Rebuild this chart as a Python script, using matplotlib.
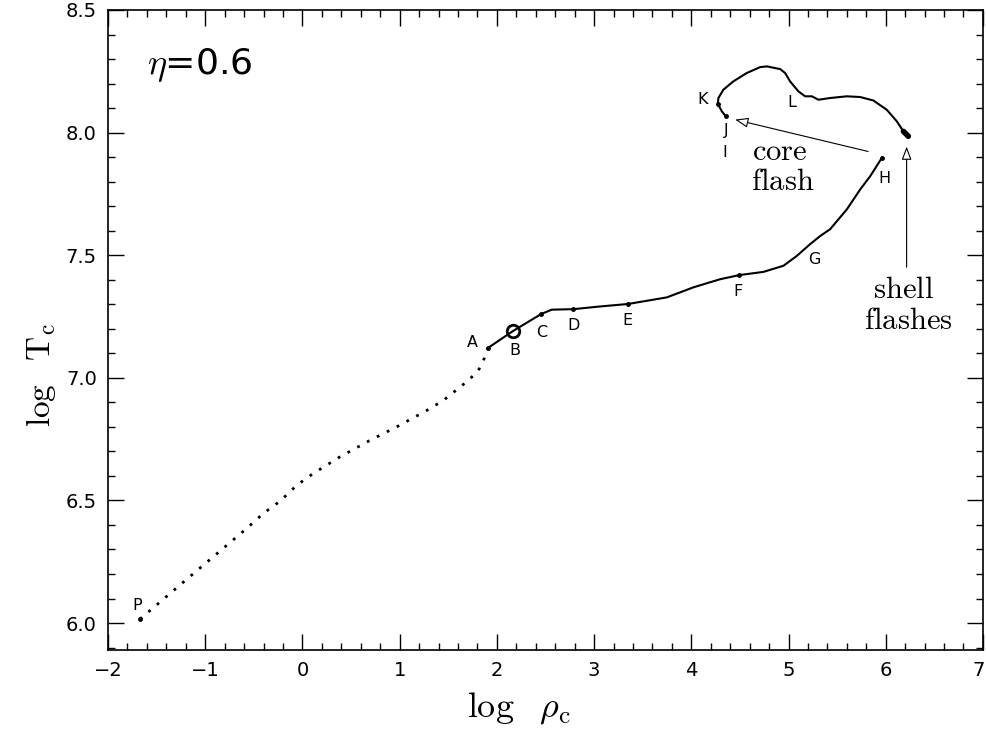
import numpy as np
import matplotlib
matplotlib.use("Agg")
import matplotlib.pyplot as plt
from matplotlib.ticker import MultipleLocator, FormatStrFormatter, FuncFormatter

plt.rcParams["mathtext.fontset"] = "cm"
plt.rcParams["font.family"] = ["DejaVu Sans"]

#----Data (log rho_c, log T_c)----

# pre-main-sequence part, dotted (P -> A)
pre_x = [-1.671, -1.499, -1.156, -0.814, -0.573, -0.402, -0.230, -0.058, 0.112, 0.387,
         0.695, 0.970, 1.279, 1.450, 1.621, 1.724, 1.810, 1.861, 1.896, 1.906]
pre_y = [6.016, 6.074, 6.190, 6.305, 6.386, 6.447, 6.497, 6.562, 6.610, 6.678,
         6.745, 6.800, 6.867, 6.908, 6.962, 6.996, 7.030, 7.070, 7.104, 7.121]

# main track, solid (A -> H)
track_x = [1.906, 2.167, 2.455, 2.565, 2.787, 3.062, 3.347, 3.748, 4.022, 4.296, 4.495,
           4.742, 4.948, 5.085, 5.222, 5.325, 5.428, 5.600, 5.737, 5.840, 5.960]
track_y = [7.121, 7.191, 7.260, 7.278, 7.280, 7.291, 7.301, 7.328, 7.369, 7.402, 7.419,
           7.432, 7.457, 7.497, 7.545, 7.578, 7.606, 7.687, 7.768, 7.822, 7.897]

# helium burning loop (J -> K -> L -> shell flashes)
loop_x = [4.355, 4.314, 4.273, 4.279, 4.330, 4.433, 4.571, 4.708, 4.777, 4.914, 4.965, 5.016,
          5.102, 5.171, 5.240, 5.308, 5.428, 5.600, 5.737, 5.873, 6.011, 6.114, 6.182, 6.233]
loop_y = [8.066, 8.087, 8.117, 8.141, 8.175, 8.209, 8.243, 8.267, 8.270, 8.259, 8.243, 8.209,
          8.168, 8.148, 8.148, 8.134, 8.141, 8.148, 8.145, 8.131, 8.093, 8.046, 8.005, 7.985]

# marked points
mark_names = ["P", "A", "C", "D", "E", "F", "H", "J", "K"]
mark_x = [-1.671, 1.906, 2.455, 2.787, 3.347, 4.495, 5.960, 4.355, 4.273]
mark_y = [6.016, 7.121, 7.260, 7.280, 7.301, 7.419, 7.897, 8.066, 8.117]

# ZAMS point B (open circle)
b_x, b_y = 2.167, 7.191

eta = 0.6
x_max = 7

#----Figure----

fig = plt.figure(figsize = (9.86, 7.34), dpi = 100)
ax = fig.add_axes([0.1095, 0.1144, 0.8874, 0.872])

ax.plot(pre_x, pre_y, color = "black", lw = 2, linestyle = (0, (1, 3)))
ax.plot(track_x, track_y, color = "black", lw = 1.5)
ax.plot(loop_x, loop_y, color = "black", lw = 1.5)
ax.plot(loop_x[-2:], loop_y[-2:], color = "black", lw = 4, solid_capstyle = "round")
ax.plot(mark_x, mark_y, "o", color = "black", ms = 2.5)
ax.plot([b_x], [b_y], "o", mfc = "none", mec = "black", ms = 9, mew = 2)

#----Point labels----
offsets = {"P": (-2, 10), "A": (-11, 4), "C": (0.5, -13), "D": (0, -12), "E": (0, -12),
           "F": (-1, -11.5), "H": (2, -15), "J": (0, -10), "K": (-11, 3)}
for name, x, y in zip(mark_names, mark_x, mark_y):
    ax.annotate(name, (x, y), xytext = offsets[name], textcoords = "offset points",
                ha = "center", va = "center", fontsize = 11.5)
ax.annotate("B", (b_x, b_y), xytext = (1, -14), textcoords = "offset points",
            ha = "center", va = "center", fontsize = 11.5)
ax.text(5.27, 7.484, "G", ha = "center", va = "center", fontsize = 11.5)
ax.text(5.031, 8.122, "L", ha = "center", va = "center", fontsize = 11.5)
ax.text(4.348, 7.919, "I", ha = "center", va = "center", fontsize = 11.5)

#----Arrows and notes----
ax.annotate("", xy = (4.451, 8.053), xytext = (5.819, 7.923),
            arrowprops = dict(arrowstyle = "-|>,head_length=0.8,head_width=0.3", fc = "white",
                              ec = "black", lw = 0.8, shrinkA = 0, shrinkB = 0))
ax.annotate("", xy = (6.215, 7.943), xytext = (6.215, 7.451),
            arrowprops = dict(arrowstyle = "-|>,head_length=0.8,head_width=0.3", fc = "white",
                              ec = "black", lw = 0.8, shrinkA = 0, shrinkB = 0))
ax.text(4.914, 7.923, r"$\mathrm{core}$", ha = "center", va = "center", fontsize = 22)
ax.text(4.944, 7.801, r"$\mathrm{flash}$", ha = "center", va = "center", fontsize = 22)
ax.text(6.179, 7.362, r"$\mathrm{shell}$", ha = "center", va = "center", fontsize = 22)
ax.text(6.230, 7.232, r"$\mathrm{flashes}$", ha = "center", va = "center", fontsize = 22)

ax.text(-1.6, 8.276, r"$\eta$" + f"={eta}", ha = "left", va = "center", fontsize = 26)

#----Axes----
ax.set_xlim(-2, x_max)
ax.set_ylim(5.89, 8.5)
ax.xaxis.set_major_locator(MultipleLocator(1))
ax.xaxis.set_minor_locator(MultipleLocator(0.2))
ax.yaxis.set_major_locator(MultipleLocator(0.5))
ax.yaxis.set_minor_locator(MultipleLocator(0.1))
ax.yaxis.set_major_formatter(FormatStrFormatter("%.1f"))
# last x label is drawn separately so it stays inside the figure
ax.xaxis.set_major_formatter(FuncFormatter(lambda v, p: "" if v >= x_max else f"{v:.0f}".replace("-", "\u2212")))
ax.tick_params(which = "both", direction = "in", top = True, right = True, labelsize = 14, width = 1)
ax.tick_params(which = "major", length = 11.5, pad = 8)
ax.tick_params(which = "minor", length = 5)
for s in ax.spines.values():
    s.set_linewidth(1.2)

ax.annotate(f"{x_max}", xy = (x_max, 0), xycoords = ("data", "axes fraction"), xytext = (1, -8),
            textcoords = "offset points", ha = "right", va = "top", fontsize = 14)

ax.set_xlabel(r"$\log\ \ \rho_{\rm c}$", fontsize = 26)
ax.set_ylabel(r"$\log\ \ \mathrm{T}_{\rm c}$", fontsize = 24)
ax.xaxis.set_label_coords(0.47, -0.063)
ax.yaxis.set_label_coords(-0.057, 0.43)

plt.savefig("out.png", dpi = 100)
